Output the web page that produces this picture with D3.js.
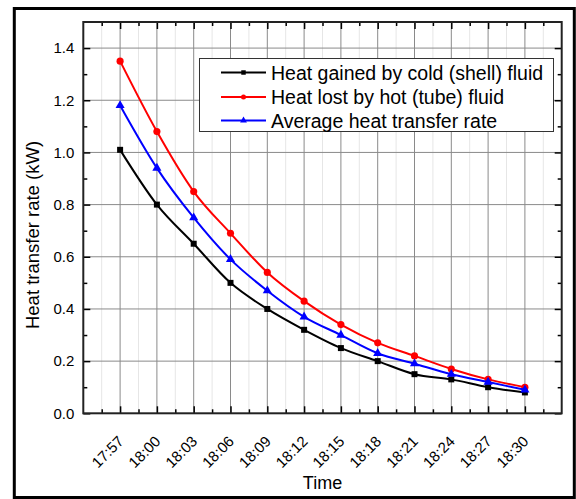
<!DOCTYPE html>
<html>
<head>
<meta charset="utf-8">
<script src="https://cdn.jsdelivr.net/npm/d3@7"></script>
<style>
  body { margin: 0; background: #fff; }
  svg { display: block; font-family: Arial, "Liberation Sans", sans-serif; }
</style>
</head>
<body>
<svg id="chart" width="576" height="499"></svg>
<script>
const times = ["17:57", "18:00", "18:03", "18:06", "18:09", "18:12", "18:15", "18:18", "18:21", "18:24", "18:27", "18:30"];
const coldGain = [1.01, 0.80, 0.65, 0.50, 0.40, 0.32, 0.25, 0.20, 0.15, 0.13, 0.10, 0.08];
const hotLoss  = [1.35, 1.08, 0.85, 0.69, 0.54, 0.43, 0.34, 0.27, 0.22, 0.17, 0.13, 0.10];
const average  = [1.18, 0.94, 0.75, 0.59, 0.47, 0.37, 0.30, 0.23, 0.19, 0.15, 0.12, 0.09];
const yTicks = [0, 0.2, 0.4, 0.6, 0.8, 1.0, 1.2, 1.4];
const seriesNames = ["Heat gained by cold (shell) fluid", "Heat lost by hot (tube) fluid", "Average heat transfer rate"];

const series = [
  { name: seriesNames[0], values: coldGain, color: "#000000", marker: d3.symbolSquare, size: 36 },
  { name: seriesNames[1], values: hotLoss, color: "#ff0000", marker: d3.symbolCircle, size: 40 },
  { name: seriesNames[2], values: average, color: "#0000ff", marker: d3.symbolTriangle, size: 36 }
];

const svg = d3.select("#chart");
const pL = 83.3, pR = 561.7, pT = 22, pB = 413.3;

// outer frame
svg.append("rect")
  .attr("x", 14.3).attr("y", 8.5)
  .attr("width", 560).attr("height", 489)
  .attr("fill", "none").attr("stroke", "#000").attr("stroke-width", 3);

const x = d3.scaleLinear().domain([-1, times.length]).range([pL, pR]);
const y = d3.scaleLinear().domain([0, 1.5]).range([pB, pT]);

const idx = d3.range(times.length);
const minorX = d3.range(-0.5, times.length, 1);
const minorY = d3.range(0.1, 1.5, 0.2);

// grid
const grid = svg.append("g");
grid.selectAll(".gxm").data(minorX).join("line")
  .attr("x1", d => x(d)).attr("x2", d => x(d))
  .attr("y1", pT).attr("y2", pB)
  .attr("stroke", "#e6e6e6").attr("stroke-width", 1);
grid.selectAll(".gx").data(idx).join("line")
  .attr("x1", d => x(d)).attr("x2", d => x(d))
  .attr("y1", pT).attr("y2", pB)
  .attr("stroke", "#8a8a8a").attr("stroke-width", 1);
grid.selectAll(".gy").data(yTicks.slice(1)).join("line")
  .attr("x1", pL).attr("x2", pR)
  .attr("y1", d => y(d)).attr("y2", d => y(d))
  .attr("stroke", "#8a8a8a").attr("stroke-width", 1);

// axes (ticks pointing inward)
function styleAxis(g) {
  g.select(".domain").remove();
  g.selectAll(".tick line").attr("stroke", "#000").attr("stroke-width", 1.5);
}

svg.append("g").attr("transform", `translate(0,${pB})`)
  .call(d3.axisBottom(x).tickValues(minorX).tickSize(-4).tickFormat("")).call(styleAxis);
svg.append("g").attr("transform", `translate(0,${pT})`)
  .call(d3.axisTop(x).tickValues(minorX).tickSize(-4).tickFormat("")).call(styleAxis);
svg.append("g").attr("transform", `translate(${pL},0)`)
  .call(d3.axisLeft(y).tickValues(minorY).tickSize(-4).tickFormat("")).call(styleAxis);
svg.append("g").attr("transform", `translate(${pR},0)`)
  .call(d3.axisRight(y).tickValues(minorY).tickSize(-4).tickFormat("")).call(styleAxis);

const xAxis = svg.append("g").attr("transform", `translate(0,${pB})`)
  .call(d3.axisBottom(x).tickValues(idx).tickSize(-7).tickPadding(0).tickFormat(i => times[i]))
  .call(styleAxis);
xAxis.selectAll(".tick text")
  .attr("font-size", 15).attr("fill", "#000")
  .attr("text-anchor", "end")
  .attr("y", 0)
  .attr("dy", null)
  .attr("transform", "translate(4,29) rotate(-45)");

svg.append("g").attr("transform", `translate(0,${pT})`)
  .call(d3.axisTop(x).tickValues(idx).tickSize(-7).tickFormat(""))
  .call(styleAxis);

const yAxis = svg.append("g").attr("transform", `translate(${pL},0)`)
  .call(d3.axisLeft(y).tickValues(yTicks).tickSize(-7).tickPadding(9).tickFormat(d3.format(".1f")))
  .call(styleAxis);
yAxis.selectAll(".tick text").attr("font-size", 15).attr("fill", "#000");

svg.append("g").attr("transform", `translate(${pR},0)`)
  .call(d3.axisRight(y).tickValues(yTicks).tickSize(-7).tickFormat(""))
  .call(styleAxis);

// plot border
svg.append("rect")
  .attr("x", pL).attr("y", pT)
  .attr("width", pR - pL).attr("height", pB - pT)
  .attr("fill", "none").attr("stroke", "#222").attr("stroke-width", 2);

// lines and markers
const line = d3.line()
  .x((d, i) => x(i))
  .y(d => y(d))
  .curve(d3.curveMonotoneX);

series.forEach(s => {
  svg.append("path")
    .datum(s.values)
    .attr("d", line)
    .attr("fill", "none")
    .attr("stroke", s.color)
    .attr("stroke-width", 2);
  svg.append("g").selectAll("path")
    .data(s.values)
    .join("path")
    .attr("d", d3.symbol().type(s.marker).size(s.size))
    .attr("transform", (d, i) => `translate(${x(i)},${y(d)})`)
    .attr("fill", s.color);
});

// legend
const legend = svg.append("g");
legend.append("rect")
  .attr("x", 199.5).attr("y", 58.5)
  .attr("width", 354).attr("height", 73)
  .attr("fill", "#fff").attr("stroke", "#333").attr("stroke-width", 1);

const rows = [72.5, 97, 120.5];
series.forEach((s, i) => {
  const g = legend.append("g").attr("transform", `translate(0,${rows[i]})`);
  g.append("line")
    .attr("x1", 221).attr("x2", 266)
    .attr("stroke", s.color).attr("stroke-width", 2);
  g.append("path")
    .attr("d", d3.symbol().type(s.marker).size(20))
    .attr("transform", "translate(243.5,0)")
    .attr("fill", s.color);
  g.append("text")
    .attr("x", 271).attr("y", 7)
    .attr("font-size", 19.5)
    .attr("fill", "#000")
    .text(s.name);
});

// axis titles
svg.append("text")
  .attr("transform", "translate(39,235) rotate(-90)")
  .attr("text-anchor", "middle")
  .attr("font-size", 18.5)
  .attr("fill", "#000")
  .text("Heat transfer rate (kW)");

svg.append("text")
  .attr("x", (pL + pR) / 2).attr("y", 489)
  .attr("text-anchor", "middle")
  .attr("font-size", 18)
  .attr("fill", "#000")
  .text("Time");
</script>
</body>
</html>
